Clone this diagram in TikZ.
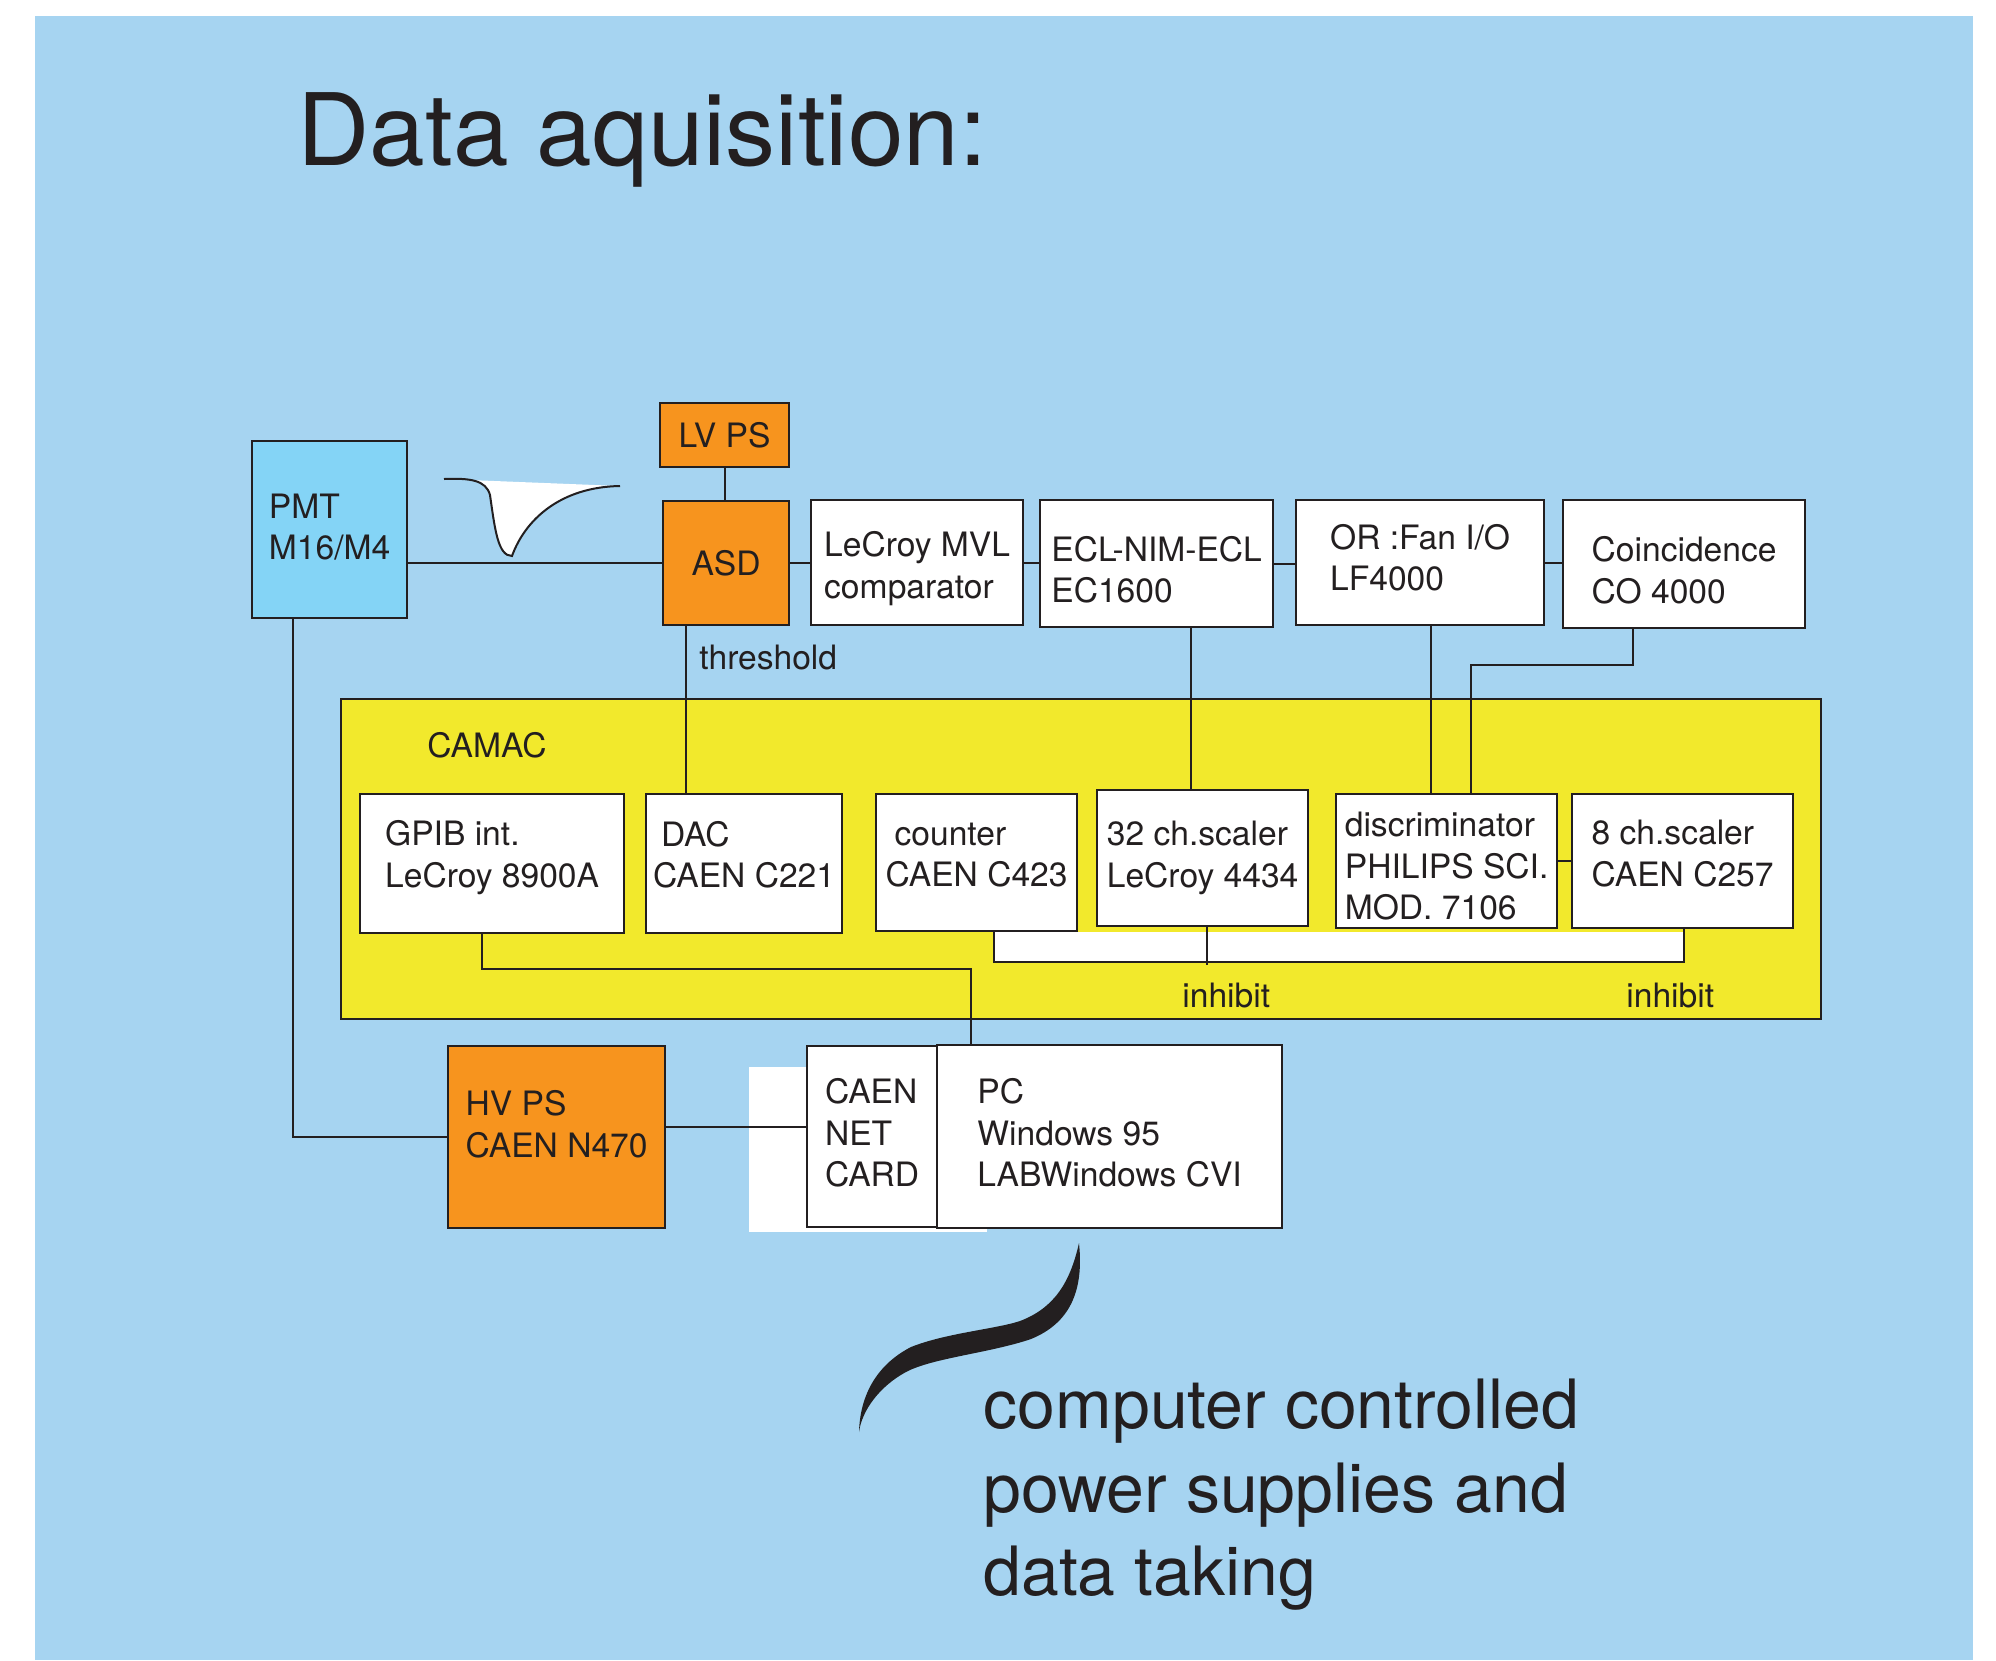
\documentclass[tikz,border=0pt]{standalone}
\usepackage{fontspec}
\setmainfont{TeX Gyre Heros}
\usepackage{xcolor}
\usepackage{tikz}

\definecolor{bgblue}{RGB}{166,212,241}
\definecolor{pmtblue}{RGB}{132,212,246}
\definecolor{psorange}{RGB}{247,148,30}
\definecolor{camacyellow}{RGB}{242,233,44}
\definecolor{ink}{RGB}{35,31,32}

\newcommand{\boxfont}{\fontsize{16.8}{20.8}\selectfont}
\newcommand{\titlefont}{\fontsize{50}{60}\selectfont}
\newcommand{\notefont}{\fontsize{34}{41.75}\selectfont}
\newcommand{\drop}[1]{\rule{0pt}{#1}}
\newcommand{\lift}[1]{\rule[-#1]{0pt}{0pt}}

\begin{document}
\begin{tikzpicture}[x=0.5pt,y=-0.5pt,
  box/.style={draw=ink, line width=1.1pt, fill=white, anchor=north west, align=left, inner sep=0pt, text=ink, font=\boxfont},
  lbl/.style={anchor=base west, inner sep=0pt, text=ink, font=\boxfont},
  wire/.style={draw=ink, line width=1pt}]

\useasboundingbox (0,0) rectangle (1996,1660);
\fill[bgblue] (35,16) rectangle (1973,1660);

\node[anchor=base west, inner sep=0pt, text=ink, font=\titlefont] (title) at (297,165) {Data aquisition:};

\node[box, fill=pmtblue, minimum width=77.5pt, minimum height=88.5pt] (pmt) at (251,440) {PMT\\M16/M4\lift{3pt}};
\node[box, fill=psorange, minimum width=64.5pt, minimum height=32pt, align=center] (lvps) at (659,402) {LV PS};
\node[box, fill=psorange, minimum width=63pt, minimum height=62pt, align=center] (asd) at (662,500) {ASD};
\node[box, minimum width=106pt, minimum height=62.5pt] (mvl) at (810,499) {\drop{18.5pt}LeCroy MVL\\comparator};
\node[box, minimum width=116.5pt, minimum height=63.5pt] (ecl) at (1039,499) {\drop{18.5pt}ECL-NIM-ECL\\EC1600};
\node[box, minimum width=124pt, minimum height=62.5pt] (fan) at (1295,499) {OR :Fan I/O\\LF4000\lift{5pt}};
\node[box, minimum width=121pt, minimum height=64pt] (coinc) at (1562,499) {\drop{18.5pt}Coincidence\\CO 4000};

\draw[wire, fill=white] (444,479) .. controls (470,478) and (486,480) .. (490,495) .. controls (495,530) and (498,556) .. (512,556) .. controls (525,520) and (560,487) .. (620,486);

\node[lbl] (thr) at (699,669) {threshold};

\node[draw=ink, line width=1.2pt, fill=camacyellow, anchor=north west, minimum width=740pt, minimum height=160pt, inner sep=0pt] (camac) at (340,698) {};
\node[lbl] (camaclbl) at (427,757) {CAMAC};

\node[box, minimum width=132pt, minimum height=69.5pt] (gpib) at (359,793) {GPIB int.\\LeCroy 8900A\lift{9.6pt}};
\node[box, minimum width=98pt, minimum height=69.5pt] (dac) at (645,793) {\hspace*{4pt}DAC\\CAEN C221\lift{9pt}};
\node[box, minimum width=100.5pt, minimum height=68.5pt] (counter) at (875,793) {\hspace*{4.5pt}counter\\CAEN C423\lift{8pt}};
\node[box, minimum width=105.5pt, minimum height=68pt] (scal32) at (1096,789) {32 ch.scaler\\LeCroy 4434};
\node[box, minimum width=110.5pt, minimum height=67pt] (disc) at (1335,793) {\drop{17.2pt}discriminator\\PHILIPS SCI.\\MOD. 7106};
\node[box, minimum width=110.5pt, minimum height=67pt] (scal8) at (1571,793) {8 ch.scaler\\CAEN C257\lift{8pt}};

\fill[white] ([xshift=59.5pt]counter.south west) rectangle ++(690,30);
\draw[wire] ([xshift=59.5pt]counter.south west) -- ++(0,30) -| ([xshift=56.5pt]scal8.south west);
\draw[wire] ([xshift=55.5pt]scal32.south west) -- ++(0,38);
\node[lbl] (inh1) at (1182,1007) {inhibit};
\node[lbl] (inh2) at (1626,1007) {inhibit};

\node[box, fill=psorange, minimum width=108.5pt, minimum height=91pt] (hv) at (447,1045) {HV PS\\CAEN N470\lift{13pt}};
\fill[white] (749,1067) rectangle (987,1232);
\node[box, minimum width=65pt, minimum height=90.5pt] (net) at (806,1045) {CAEN\\NET\\CARD\lift{4pt}};
\node[box, minimum width=172.5pt, minimum height=91.5pt] (pc) at (936,1044) {PC\\Windows 95\\LABWindows CVI\lift{4pt}};

\draw[wire] (asd.west) -- (asd.west -| pmt.east);
\draw[wire] (lvps.south) -- (lvps.south |- asd.north);
\draw[wire] ([xshift=20.5pt]dac.north west) -- ([xshift=20.5pt]dac.north west |- asd.south);
\draw[wire] (asd.east) -- (asd.east -| mvl.west);
\draw[wire] (mvl.east) -- (mvl.east -| ecl.west);
\draw[wire] (ecl.east) -- (ecl.east -| fan.west);
\draw[wire] (fan.east) -- (fan.east -| coinc.west);
\draw[wire] ([xshift=76pt]ecl.south west) -- ([xshift=76pt]ecl.south west |- scal32.north);
\draw[wire] ([xshift=48pt]disc.north west) -- ([xshift=48pt]disc.north west |- fan.south);
\draw[wire] ([xshift=35.5pt]coinc.south west) -- ++(0,36) -| ([xshift=68pt]disc.north west);
\draw[wire] (disc.east) -- (disc.east -| scal8.west);
\draw[wire] ([xshift=61.5pt]gpib.south west) -- ++(0,35) -| ([xshift=17.5pt]pc.north west);
\draw[wire] ([xshift=21pt]pmt.south west) |- (hv.west);
\draw[wire] ([yshift=5pt]hv.east) -- ([yshift=5pt]hv.east -| net.west);

\fill[ink] (1079,1243) .. controls (1084,1291) and (1070,1323) .. (1031,1339) .. controls (990,1353) and (932,1358) .. (906,1372) .. controls (880,1386) and (862,1410) .. (859,1432) .. controls (860,1396) and (876,1365) .. (911,1347) .. controls (946,1333) and (996,1329) .. (1020,1321) .. controls (1054,1308) and (1070,1283) .. (1079,1243) -- cycle;

\node[anchor=north west, align=left, inner sep=0pt, text=ink, font=\notefont] (note) at (983,1379) {computer controlled\\power supplies and\\data taking};

\end{tikzpicture}
\end{document}
